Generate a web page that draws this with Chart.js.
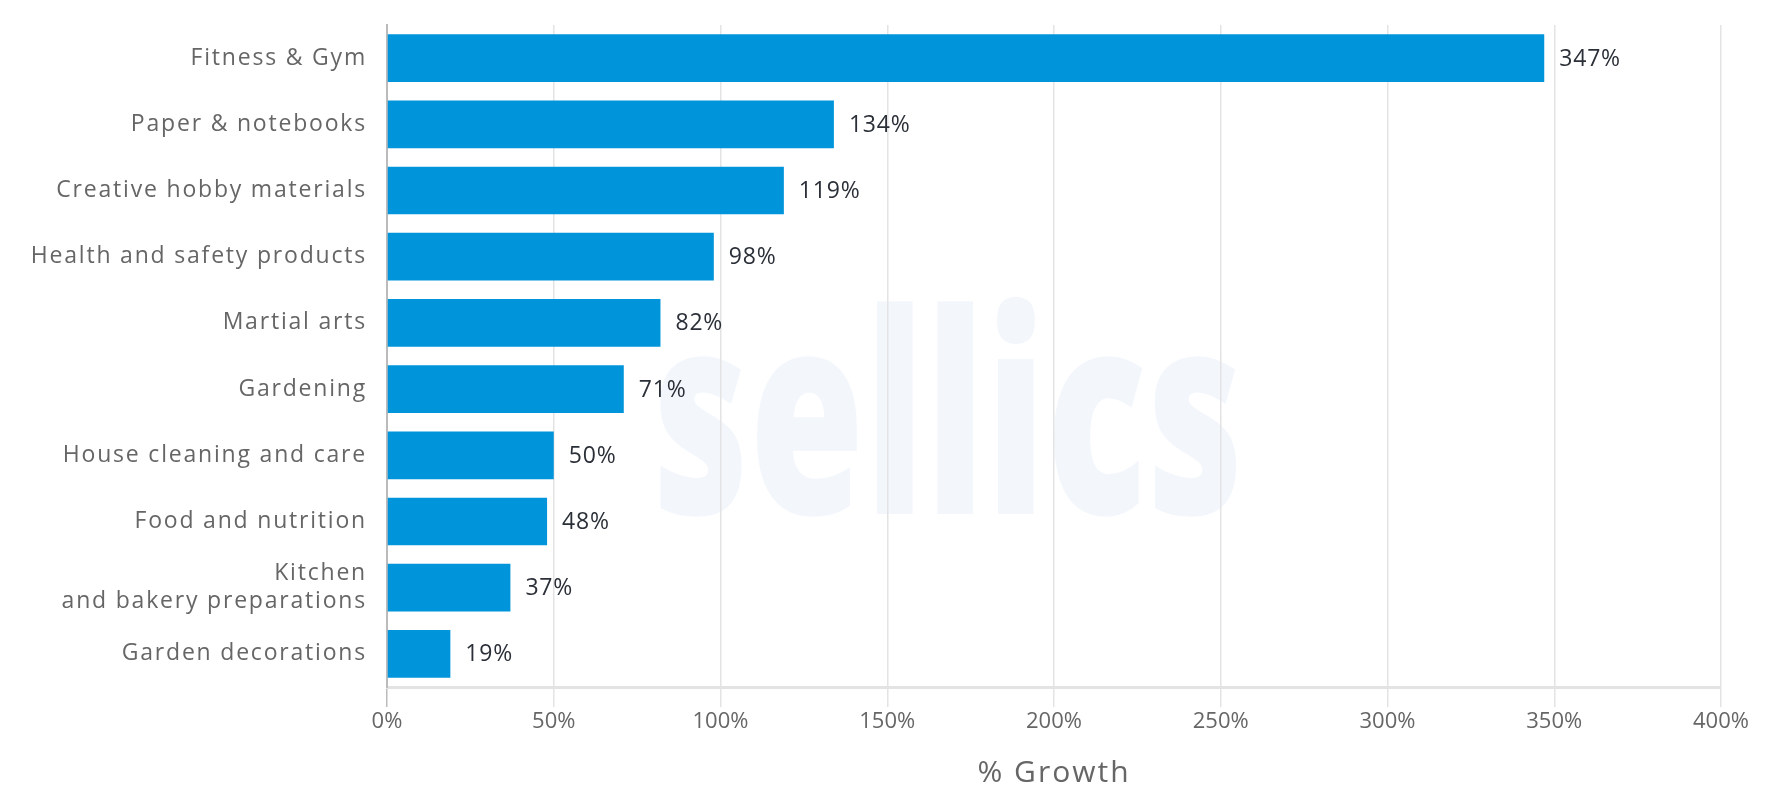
<!DOCTYPE html>
<html>
<head>
<meta charset="utf-8">
<script src="https://cdn.jsdelivr.net/npm/chart.js@4.4.1/dist/chart.umd.min.js"></script>
<style>
html,body{margin:0;padding:0;background:#fff;}
#wrap{width:1782px;height:806px;position:relative;}
</style>
</head>
<body>
<div id="wrap"><canvas id="c" width="1782" height="806"></canvas></div>
<script>
const categories = [
  'Fitness & Gym',
  'Paper & notebooks',
  'Creative hobby materials',
  'Health and safety products',
  'Martial arts',
  'Gardening',
  'House cleaning and care',
  'Food and nutrition',
  ['Kitchen', 'and bakery preparations'],
  'Garden decorations'
];
const growth = [347, 134, 119, 98, 82, 71, 50, 48, 37, 19];
const xTicks = [0, 50, 100, 150, 200, 250, 300, 350, 400];
const axisTitle = '% Growth';
const watermark = 'sellics';

const FONT = "'Open Sans', 'Noto Sans', sans-serif";

const watermarkPlugin = {
  id: 'watermark',
  beforeDraw(chart) {
    const ctx = chart.ctx;
    ctx.save();
    ctx.font = "800 280px " + FONT;
    ctx.fillStyle = '#f3f7fc';
    ctx.textBaseline = 'alphabetic';
    const w = ctx.measureText(watermark).width;
    const target = 591;
    ctx.translate(948, 514);
    ctx.scale(target / w, 1);
    ctx.textAlign = 'center';
    ctx.fillText(watermark, 0, 0);
    ctx.restore();
  }
};

const spacingPlugin = {
  id: 'spacing',
  afterLayout(chart) {
    const ctx = chart.ctx;
    const y = chart.scales.y, x = chart.scales.x;
    if (!y._wrapped) {
      const orig = y.drawLabels;
      y.drawLabels = function (area) {
        ctx.save(); ctx.letterSpacing = '1.8px';
        orig.call(this, area);
        ctx.restore();
      };
      y._wrapped = true;
    }
    if (!x._wrapped) {
      const origT = x.drawTitle;
      x.drawTitle = function () {
        ctx.save(); ctx.letterSpacing = '2px';
        origT.call(this);
        ctx.restore();
      };
      x._wrapped = true;
    }
  }
};

const valueLabels = {
  id: 'valueLabels',
  afterDatasetsDraw(chart) {
    const ctx = chart.ctx;
    const meta = chart.getDatasetMeta(0);
    ctx.save();
    ctx.letterSpacing = '0.8px';
    ctx.font = "23px " + FONT;
    ctx.fillStyle = '#2b3038';
    ctx.textAlign = 'left';
    ctx.textBaseline = 'middle';
    meta.data.forEach((bar, i) => {
      ctx.fillText(growth[i] + '%', bar.x + 15, bar.y + 1);
    });
    ctx.restore();
  }
};

new Chart(document.getElementById('c'), {
  type: 'bar',
  data: {
    labels: categories,
    datasets: [{
      data: growth,
      backgroundColor: '#0095da',
      borderWidth: 0,
      barPercentage: 0.72,
      categoryPercentage: 1.0
    }]
  },
  options: {
    indexAxis: 'y',
    responsive: false,
    animation: false,
    devicePixelRatio: 1,
    layout: { padding: { top: 25, right: 61, bottom: 0, left: 0 } },
    plugins: {
      legend: { display: false },
      tooltip: { enabled: false }
    },
    scales: {
      x: {
        min: 0,
        max: 400,
        afterBuildTicks(scale) { scale.ticks = xTicks.map(v => ({ value: v })); },
        afterFit(scale) { scale.height = 119; },
        grid: {
          color: '#e3e3e3',
          lineWidth: 1.5,
          drawTicks: true,
          tickLength: 20,
          tickColor: c => (c.index === 0 ? '#bbbbbb' : '#e3e3e3')
        },
        border: { display: true, color: '#e3e3e3', width: 3 },
        ticks: {
          padding: 2,
          color: '#666666',
          font: { family: FONT, size: 22 },
          callback: v => v + '%'
        },
        title: {
          display: true,
          text: axisTitle,
          color: '#666666',
          font: { family: FONT, size: 30 },
          padding: { top: 0, bottom: 15 }
        }
      },
      y: {
        afterFit(scale) {
          scale.width = 387;
          scale.paddingTop = 0;
          scale.paddingBottom = 0;
        },
        grid: { display: false, drawTicks: false },
        border: { display: true, color: '#bbbbbb', width: 2 },
        ticks: {
          padding: 20,
          color: '#666666',
          font: { family: FONT, size: 23 }
        }
      }
    }
  },
  plugins: [spacingPlugin, watermarkPlugin, valueLabels]
});
</script>
</body>
</html>
